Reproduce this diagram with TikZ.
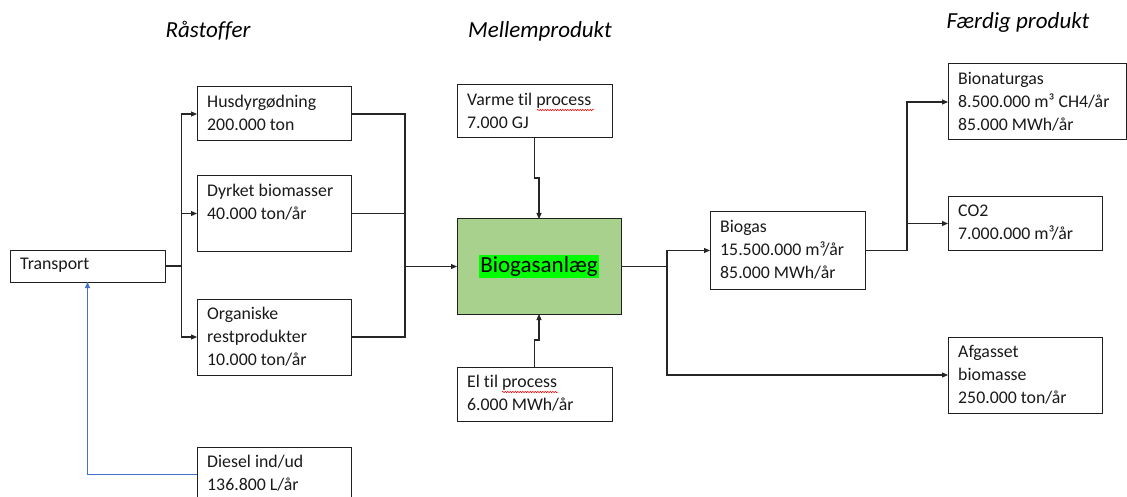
\documentclass[tikz,border=0pt]{standalone}
\usepackage{fontspec}
\setmainfont{Carlito}[Ligatures=CommonOff]
\usetikzlibrary{arrows.meta,fit,decorations.pathmorphing}
\definecolor{anlaegfill}{HTML}{A9D18E}
\definecolor{hlgreen}{HTML}{00FF00}
\definecolor{lineblue}{HTML}{4472C4}
\definecolor{boxline}{HTML}{202020}
\tikzset{
  box/.style={draw=boxline, line width=1pt, inner sep=0pt, outer sep=0pt},
  txt/.style={inner sep=0pt, align=left, font=\fontsize{17.8}{22.8}\selectfont, text=black!90},
  conn/.style={draw=black!85, line width=1.1pt},
  arr/.style={conn, -{Triangle[length=6pt,width=5pt]}},
  bluearr/.style={draw=lineblue, line width=1pt, -{Triangle[length=6pt,width=5pt]}},
  header/.style={font=\fontsize{23}{28}\selectfont\itshape, inner sep=0pt},
  squiggle/.style={draw=red, line width=0.5pt, decorate, decoration={snake, amplitude=0.7pt, segment length=2.5pt}}
}
\newcommand\flowbox[6]{%
  \node[box, fit={(#2,#3) (#4,#5)}] (#1) {};
  \node[txt, anchor=north west] (#1-t) at ([xshift=10pt,yshift=-8pt]#1.north west) {#6};
}
\begin{document}
\begin{tikzpicture}[x=1pt,y=-1pt]
\useasboundingbox (0,0) rectangle (1127,497);

% headers
\node[header] (h1) at (208,31) {Råstoffer};
\node[header] (h2) at (540,31) {Mellemprodukt};
\node[header] (h3) at (1018,22) {Færdig produkt};

% boxes
\flowbox{transport}{10}{250}{165}{282}{Transport}
\flowbox{hus}{197}{87}{351}{141}{Husdyrgødning\\200.000 ton}
\flowbox{dyr}{197}{176}{351}{251}{Dyrket biomasser\\40.000 ton/år}
\flowbox{org}{197}{299}{351}{375}{Organiske\\restprodukter\\10.000 ton/år}
\flowbox{diesel}{197}{447}{351}{501}{Diesel ind/ud\\136.800 L/år}
\flowbox{varme}{457}{85}{612}{138}{Varme til process\\7.000 GJ}
\flowbox{el}{457}{367}{612}{421}{El til process\\6.000 MWh/år}
\flowbox{biogas}{710}{212}{865}{289}{Biogas\\15.500.000 m³/år\\85.000 MWh/år}
\flowbox{bionat}{948}{64}{1126}{140}{Bionaturgas\\8.500.000 m³ CH4/år\\85.000 MWh/år}
\flowbox{co2}{948}{197}{1102}{250}{CO2\\7.000.000 m³/år}
\flowbox{afg}{948}{337}{1102}{413}{Afgasset\\biomasse\\250.000 ton/år}

% central plant
\node[box, fill=anlaegfill, fit={(457,219) (621,314)}] (anlaeg) {};
\node[fill=hlgreen, inner sep=1.5pt, font=\fontsize{23}{28}\selectfont] (anlaeg-t) at (anlaeg.center) {Biogasanlæg};

% spellcheck squiggles
\draw[squiggle] (537,110) -- (594,110);
\draw[squiggle] (502,392) -- (558,392);

% junction coordinates
\coordinate (jl) at (181.7,266);
\coordinate (mx) at (405,266.5);
\coordinate (ox) at (667,266.5);
\coordinate (bx) at (907,250.5);

% transport to raw materials
\draw[conn] (transport.east) -- (jl);
\draw[arr] (jl) |- (hus.west);
\draw[arr] (jl) |- (dyr.west);
\draw[arr] (jl) |- (org.west);

% raw materials to plant
\draw[conn] (hus.east) -| (mx);
\draw[conn] (dyr.east) -| (mx);
\draw[conn] (org.east) -| (mx);
\draw[arr] (mx) -- (anlaeg.west);

% process inputs
\draw[arr] (varme.south) -- ++(0,40) -| (anlaeg.north);
\draw[arr] (el.north) -- ++(0,-27) -| (anlaeg.south);

% outputs
\draw[conn] (anlaeg.east) -- (ox);
\draw[arr] (ox) |- (biogas.west);
\draw[arr] (ox) |- (afg.west);
\draw[conn] (biogas.east) -- (bx);
\draw[arr] (bx) |- (bionat.west);
\draw[arr] (bx) |- (co2.west);

% diesel
\draw[bluearr] (diesel.west) -| (transport.south);
\end{tikzpicture}
\end{document}
